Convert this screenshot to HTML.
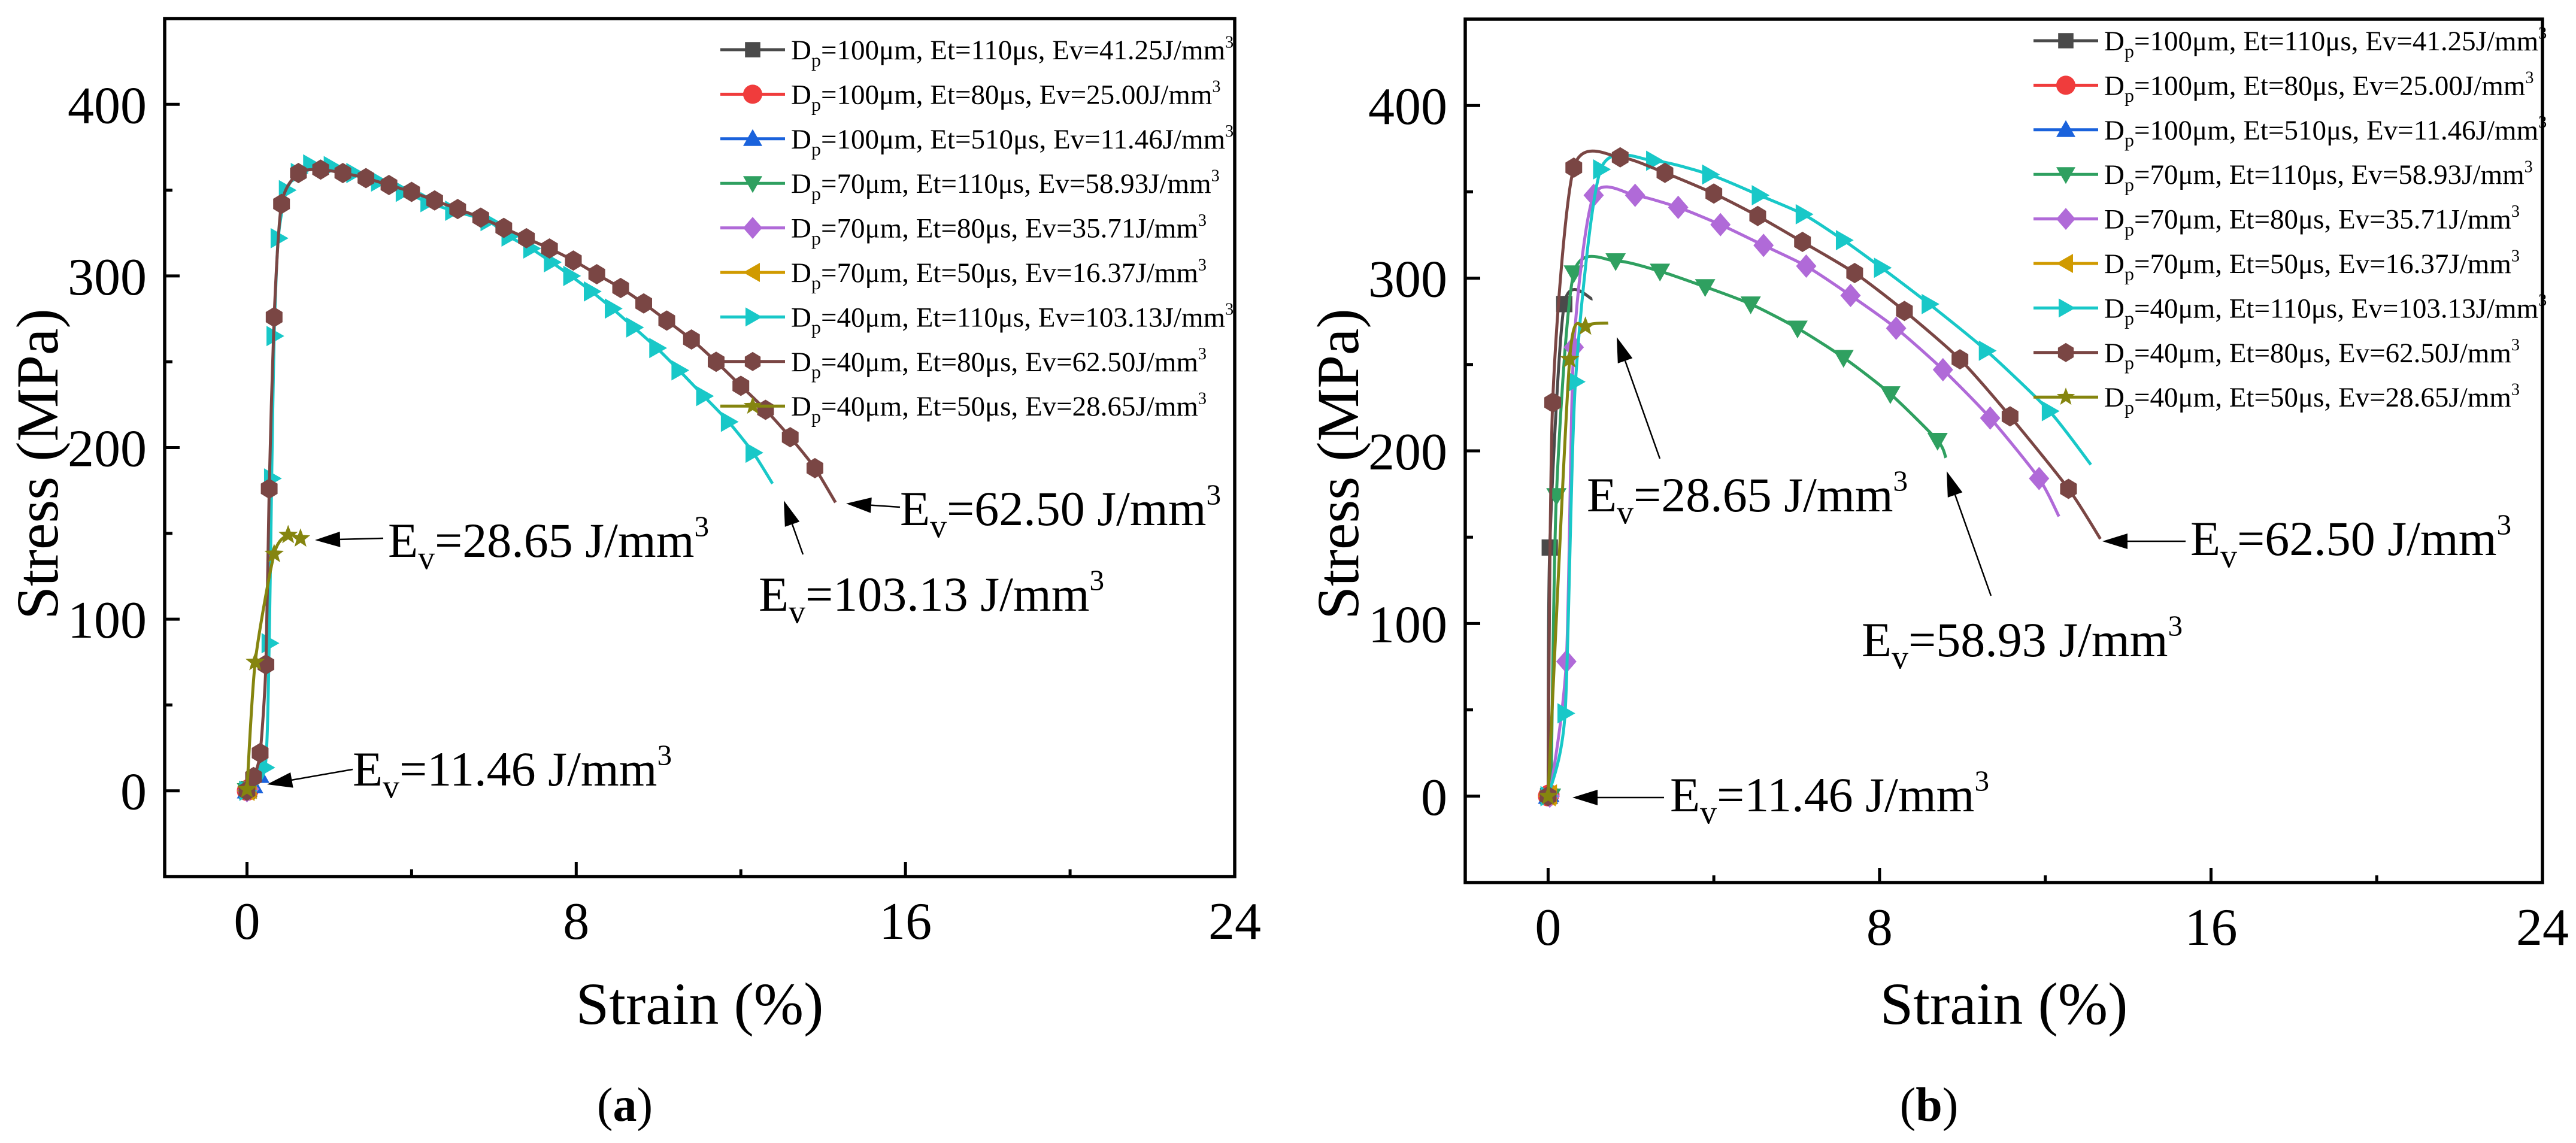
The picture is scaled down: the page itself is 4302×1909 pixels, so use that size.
<!DOCTYPE html>
<html><head><meta charset="utf-8"><title>Stress-strain curves</title>
<style>
html,body{margin:0;padding:0;background:#fff;}
svg{display:block;font-family:"Liberation Serif","DejaVu Serif",serif;}
</style></head>
<body>
<svg id="fig" width="4302" height="1909" viewBox="0 0 4302 1909" xmlns="http://www.w3.org/2000/svg"></svg>
<script>
// ---------- data ----------
const xTicks = [0, 8, 16, 24];
const xMinor = [4, 12, 20];
const yTicks = [0, 100, 200, 300, 400];
const yMinor = [50, 150, 250, 350];
const legendLabels = [
  ["100μm, Et=110μs, Ev=41.25J/mm"],
  ["100μm, Et=80μs, Ev=25.00J/mm"],
  ["100μm, Et=510μs, Ev=11.46J/mm"],
  ["70μm, Et=110μs, Ev=58.93J/mm"],
  ["70μm, Et=80μs, Ev=35.71J/mm"],
  ["70μm, Et=50μs, Ev=16.37J/mm"],
  ["40μm, Et=110μs, Ev=103.13J/mm"],
  ["40μm, Et=80μs, Ev=62.50J/mm"],
  ["40μm, Et=50μs, Ev=28.65J/mm"]
];
const seriesColors = ["#4a4a4a","#f03c3c","#1a62dc","#2fa060","#b06ad8","#d09a00","#18c8c8","#7a4644","#85850f"];
const seriesMarkers = ["square","circle","tri-up","tri-down","diamond","tri-left","tri-right","hexagon","star"];

// Panel (a)
const aGrayX = [0, 0.05];              const aGrayY = [0, 1];
const aRedX = [0, 0.05];               const aRedY = [0, 1];
const aBlueX = [0, 0.15, 0.3];         const aBlueY = [0, 3, 9];
const aGreenX = [0, 0.05];             const aGreenY = [0, 1];
const aPurpleX = [0, 0.05];            const aPurpleY = [0, 1];
const aGoldX = [0, 0.05];              const aGoldY = [0, 1];
const aCyanX = [0, 0.44, 0.54, 0.6, 0.66, 0.76, 0.96, 1.25, 1.55, 2.05, 2.6, 3.2, 3.8, 4.4, 5.0, 5.86, 6.37, 6.9, 7.4, 7.87, 8.37, 8.88, 9.4, 9.96, 10.5, 11.1, 11.7, 12.3, 12.77];
const aCyanY = [0, 13.5, 86, 182, 265, 322, 350, 360, 365, 364, 360, 355, 349, 343, 338, 332, 323, 316, 308, 300, 291, 281, 270, 258, 245, 230, 215, 197, 179];
const aBrownX = [0, 0.16, 0.32, 0.46, 0.54, 0.66, 0.84, 1.25, 1.79, 2.33, 2.89, 3.45, 4.0, 4.56, 5.12, 5.68, 6.24, 6.79, 7.35, 7.93, 8.5, 9.08, 9.64, 10.2, 10.8, 11.4, 12.0, 12.6, 13.2, 13.8, 14.3];
const aBrownY = [0, 8, 22, 73.5, 176, 276, 342, 360, 362, 360, 357, 353, 349, 344, 339, 334, 328, 322, 316, 309, 301, 293, 284, 274, 263, 250, 236, 222, 206, 188, 168];
const aOliveX = [0, 0.2, 0.66, 1.0, 1.3];
const aOliveY = [0.8, 75, 138, 149, 147];

// Panel (b)
const bGrayX = [0, 0.04, 0.39, 1.07];  const bGrayY = [0, 144, 285, 288];
const bRedX = [0, 0.03];               const bRedY = [0, 1];
const bBlueX = [0, 0.03];              const bBlueY = [0, 1];
const bGreenX = [0.07, 0.2, 0.62, 1.63, 2.7, 3.79, 4.89, 6.02, 7.13, 8.26, 9.4, 9.6];
const bGreenY = [0, 174, 303, 310, 304, 295, 285, 271, 254, 233, 206, 196];
const bPurpleX = [0.04, 0.44, 0.62, 1.1, 2.1, 3.14, 4.16, 5.2, 6.23, 7.3, 8.4, 9.53, 10.67, 11.85, 12.33];
const bPurpleY = [0, 78, 260, 348, 348, 341, 331, 319, 307, 290, 271, 247, 219, 184, 162];
const bGoldX = [0, 0.03];              const bGoldY = [0, 1];
const bCyanX = [0, 0.41, 0.66, 1.27, 2.55, 3.9, 5.1, 6.16, 7.13, 8.05, 9.2, 10.58, 12.1, 13.1];
const bCyanY = [0, 48, 240, 363, 368, 360, 348, 337, 322, 306, 285, 258, 223, 192];
const bBrownX = [0, 0.11, 0.62, 1.74, 2.82, 4.0, 5.06, 6.14, 7.4, 8.6, 9.94, 11.15, 12.56, 13.33];
const bBrownY = [0, 228, 364, 370, 361, 349, 336, 321, 303, 281, 253, 220, 178, 149];
const bOliveX = [0, 0.52, 0.9, 1.45];
const bOliveY = [0, 253, 272, 274];

// ---------- helpers ----------
const NS = "http://www.w3.org/2000/svg";
const svg = document.getElementById("fig");
function mk(tag, attrs, parent) {
  const e = document.createElementNS(NS, tag);
  for (const k in attrs) e.setAttribute(k, attrs[k]);
  (parent || svg).appendChild(e);
  return e;
}
function makeScales(L, R, T, B) {
  return {
    x: v => L + (v + 2) * (R - L) / 26,
    y: v => B - (v + 50) * (B - T) / 500,
    L, R, T, B
  };
}
function smoothPath(pts) {
  if (pts.length < 2) return "";
  let d = "M" + pts[0][0] + "," + pts[0][1];
  for (let i = 0; i < pts.length - 1; i++) {
    const p0 = pts[i - 1] || pts[i], p1 = pts[i], p2 = pts[i + 1], p3 = pts[i + 2] || p2;
    const t = 0.12;
    const c1 = [p1[0] + (p2[0] - p0[0]) * t, p1[1] + (p2[1] - p0[1]) * t];
    const c2 = [p2[0] - (p3[0] - p1[0]) * t, p2[1] - (p3[1] - p1[1]) * t];
    d += " C" + c1[0] + "," + c1[1] + " " + c2[0] + "," + c2[1] + " " + p2[0] + "," + p2[1];
  }
  return d;
}
function markerPath(type, cx, cy, r) {
  const poly = a => "M" + a.map(p => (cx + p[0]) + "," + (cy + p[1])).join(" L") + " Z";
  switch (type) {
    case "square": return poly([[-r*0.8,-r*0.8],[r*0.8,-r*0.8],[r*0.8,r*0.8],[-r*0.8,r*0.8]]);
    case "circle": return "M" + (cx - r) + "," + cy + " a" + r + "," + r + " 0 1,0 " + 2*r + ",0 a" + r + "," + r + " 0 1,0 " + (-2*r) + ",0 Z";
    case "tri-up": return poly([[0,-r],[r,r*0.75],[-r,r*0.75]]);
    case "tri-down": return poly([[0,r],[r,-r*0.75],[-r,-r*0.75]]);
    case "tri-left": return poly([[-r,0],[r*0.75,-r],[r*0.75,r]]);
    case "tri-right": return poly([[r,0],[-r*0.75,-r],[-r*0.75,r]]);
    case "diamond": return poly([[0,-r*1.15],[r*1.0,0],[0,r*1.15],[-r*1.0,0]]);
    case "hexagon": {
      const a = []; for (let i = 0; i < 6; i++) { const ang = Math.PI/6 + i*Math.PI/3; a.push([r*Math.cos(ang)*0.95, r*Math.sin(ang)]); } return poly(a);
    }
    case "star": {
      const a = []; for (let i = 0; i < 10; i++) { const rr = i%2 ? r*0.42 : r; const ang = -Math.PI/2 + i*Math.PI/5; a.push([rr*Math.cos(ang), rr*Math.sin(ang)]); } return poly(a);
    }
  }
}
function subText(parent, x, y, size, parts, anchor) {
  const t = mk("text", {x: x, y: y, "font-size": size, fill: "#000", "text-anchor": anchor || "start"}, parent);
  const s1 = mk("tspan", {}, t); s1.textContent = parts[0];
  const s2 = mk("tspan", {dy: size*0.25, "font-size": size*0.68}, t); s2.textContent = parts[1];
  const s3 = mk("tspan", {dy: -size*0.25}, t); s3.textContent = parts[2];
  const s4 = mk("tspan", {dy: -size*0.42, "font-size": size*0.6}, t); s4.textContent = parts[3];
  return t;
}
function arrow(parent, x1, y1, x2, y2, name) {
  const g = mk("g", {}, parent);
  
  
  const dx = x2 - x1, dy = y2 - y1, len = Math.hypot(dx, dy), ux = dx/len, uy = dy/len;
  const hl = 42, hw = 13;
  const bx = x2 - ux*hl, by = y2 - uy*hl;
  mk("line", {x1: x1, y1: y1, x2: bx, y2: by, stroke: "#000", "stroke-width": 2.5}, g);
  mk("path", {d: "M" + x2 + "," + y2 + " L" + (bx - uy*hw) + "," + (by + ux*hw) + " L" + (bx + uy*hw) + "," + (by - ux*hw) + " Z", fill: "#000"}, g);
}

function drawPanel(id, sc, series, legendTop, legX) {
  const g = mk("g", {});
  
  
  series.forEach((s, i) => {
    const sg = mk("g", {}, g);
    
    
    const pts = s.x.map((v, k) => [sc.x(v), sc.y(s.y[k])]);
    const line = mk("path", {d: smoothPath(pts), fill: "none", stroke: seriesColors[i], "stroke-width": 5, "stroke-linejoin": "round"}, sg);
    
    
    const n = s.skipLast ? pts.length - 1 : pts.length;
    for (let k = 0; k < n; k++) {
      const m = mk("path", {d: markerPath(seriesMarkers[i], pts[k][0], pts[k][1], 17), fill: seriesColors[i]}, sg);
      
      
    }
  });
  const fr = mk("rect", {x: sc.L, y: sc.T, width: sc.R - sc.L, height: sc.B - sc.T, fill: "none", stroke: "#000", "stroke-width": 5.5}, g);
  
  
  xTicks.forEach(v => {
    const x = sc.x(v);
    mk("line", {x1: x, y1: sc.B, x2: x, y2: sc.B - 24, stroke: "#000", "stroke-width": 5}, g);
    const t = mk("text", {x: x, y: sc.B + 104, "font-size": 88, "text-anchor": "middle"}, g);
    
    
    t.textContent = v;
  });
  xMinor.forEach(v => { const x = sc.x(v); mk("line", {x1: x, y1: sc.B, x2: x, y2: sc.B - 12, stroke: "#000", "stroke-width": 5}, g); });
  yTicks.forEach(v => {
    const y = sc.y(v);
    mk("line", {x1: sc.L, y1: y, x2: sc.L + 25, y2: y, stroke: "#000", "stroke-width": 5}, g);
    const t = mk("text", {x: sc.L - 30, y: y + 31, "font-size": 88, "text-anchor": "end"}, g);
    
    
    t.textContent = v;
  });
  yMinor.forEach(v => { const y = sc.y(v); mk("line", {x1: sc.L, y1: y, x2: sc.L + 13, y2: y, stroke: "#000", "stroke-width": 5}, g); });
  const cx = (sc.L + sc.R) / 2;
  const xt = mk("text", {x: cx, y: 1710, "font-size": 100, "text-anchor": "middle"}, g);
  
  
  xt.textContent = "Strain (%)";
  const ytx = sc.L - 213;
  const yt = mk("text", {x: 0, y: 0, "font-size": 100, "text-anchor": "middle", transform: "translate(" + (ytx + 34) + ",775) rotate(-90)"}, g);
  
  
  yt.textContent = "Stress (MPa)";
  const pl = mk("text", {x: cx - 125, y: 1872, "font-size": 80, "text-anchor": "middle"}, g);
  
  
  const p1 = mk("tspan", {}, pl); p1.textContent = "(";
  const p2 = mk("tspan", {"font-weight": "bold"}, pl); p2.textContent = id;
  const p3 = mk("tspan", {}, pl); p3.textContent = ")";
  const lg = mk("g", {}, g);
  
  
  legendLabels.forEach((lab, i) => {
    const y = legendTop + i * 74.4;
    const eg = mk("g", {}, lg);
    
    
    mk("line", {x1: legX, y1: y, x2: legX + 108, y2: y, stroke: seriesColors[i], "stroke-width": 5}, eg);
    mk("path", {d: markerPath(seriesMarkers[i], legX + 54, y, 16), fill: seriesColors[i]}, eg);
    subText(eg, legX + 118, y + 16, 47, ["D", "p", "=" + lab[0], "3"]);
  });
  return g;
}

// ---------- panel a ----------
const scA = makeScales(275, 2062, 31, 1464);
const gA = drawPanel("a", scA, [
  {key: "gray", x: aGrayX, y: aGrayY},
  {key: "red", x: aRedX, y: aRedY},
  {key: "blue", x: aBlueX, y: aBlueY},
  {key: "green", x: aGreenX, y: aGreenY},
  {key: "purple", x: aPurpleX, y: aPurpleY},
  {key: "gold", x: aGoldX, y: aGoldY},
  {key: "cyan", x: aCyanX, y: aCyanY, skipLast: true},
  {key: "brown", x: aBrownX, y: aBrownY, skipLast: true},
  {key: "olive", x: aOliveX, y: aOliveY}
], 83, 1203);
function ann(parent, x, y, num, name) {
  const t = subText(parent, x, y, 82, ["E", "v", "=" + num + " J/mm", "3"]);
  
  
}
ann(gA, 648, 930, "28.65", "annotation-ev-28-65");
arrow(gA, 640, 899, 526, 902, "arrow-28-65");
ann(gA, 589, 1312, "11.46", "annotation-ev-11-46");
arrow(gA, 589, 1285, 446, 1310, "arrow-11-46");
ann(gA, 1503, 877, "62.50", "annotation-ev-62-50");
arrow(gA, 1503, 847, 1413, 841, "arrow-62-50");
ann(gA, 1267, 1020, "103.13", "annotation-ev-103-13");
arrow(gA, 1341, 926, 1309, 836, "arrow-103-13");

// ---------- panel b ----------
const scB = makeScales(2447, 4246, 32, 1474);
const gB = drawPanel("b", scB, [
  {key: "gray", x: bGrayX, y: bGrayY, skipLast: true},
  {key: "red", x: bRedX, y: bRedY},
  {key: "blue", x: bBlueX, y: bBlueY},
  {key: "green", x: bGreenX, y: bGreenY, skipLast: true},
  {key: "purple", x: bPurpleX, y: bPurpleY, skipLast: true},
  {key: "gold", x: bGoldX, y: bGoldY},
  {key: "cyan", x: bCyanX, y: bCyanY, skipLast: true},
  {key: "brown", x: bBrownX, y: bBrownY, skipLast: true},
  {key: "olive", x: bOliveX, y: bOliveY, skipLast: true}
], 68, 3396);
ann(gB, 2650, 854, "28.65", "annotation-ev-28-65-b");
arrow(gB, 2772, 766, 2700, 563, "arrow-28-65-b");
ann(gB, 3109, 1096, "58.93", "annotation-ev-58-93-b");
arrow(gB, 3325, 995, 3251, 787, "arrow-58-93-b");
ann(gB, 3658, 927, "62.50", "annotation-ev-62-50-b");
arrow(gB, 3650, 904, 3511, 904, "arrow-62-50-b");
ann(gB, 2789, 1355, "11.46", "annotation-ev-11-46-b");
arrow(gB, 2779, 1332, 2626, 1332, "arrow-11-46-b");
</script>
</body></html>
